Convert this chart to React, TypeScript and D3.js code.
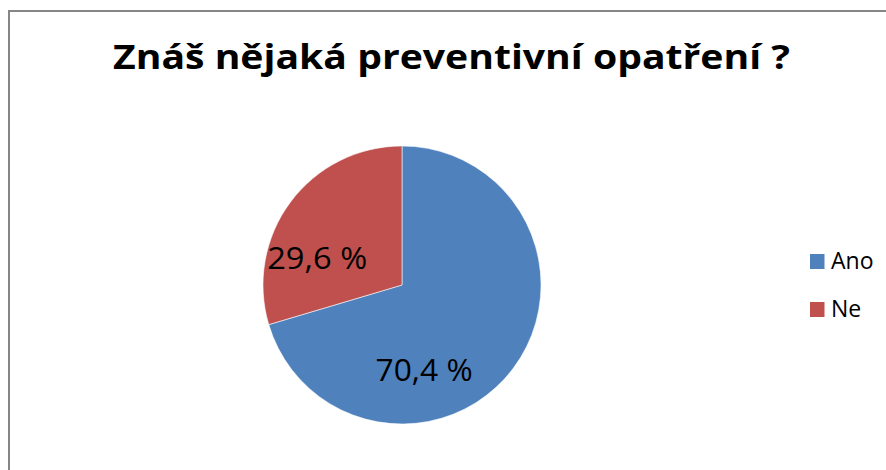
import React from "react";
import * as d3 from "d3";

const titleText = "Znáš nějaká preventivní opatření ?";
const categories = ["Ano", "Ne"];
const values = [70.4, 29.6];
const labels = ["70,4 %", "29,6 %"];
const colors = ["#4F81BD", "#C0504D"];

const W = 886;
const H = 470;
const cx = 402;
const cy = 285;
const R = 139;
// where inside each slice the label sits (fraction of slice angle, fraction of radius)
const labelAngleFrac = [0.653, 0.32];
const labelRadiusFrac = [0.635, 0.64];

export default function App() {
  const pie = d3.pie<number>().sort(null).value((d) => d);
  const arcs = pie(values);
  const arc = d3.arc<d3.PieArcDatum<number>>().innerRadius(0).outerRadius(R);
  const font = "'Open Sans', 'Noto Sans', sans-serif";
  const legendY = d3.scalePoint<string>().domain(categories).range([261.5, 309.5]);

  return (
    <svg
      width={W}
      height={H}
      style={{ position: "absolute", left: 0, top: 0, background: "#fff" }}
    >
      <rect x={0} y={0} width={W} height={H} fill="#fff" />
      <path d={`M9,${H} L9,11 L${W},11`} fill="none" stroke="#868686" strokeWidth={2} />
      <text
        x={451.5}
        y={69}
        textAnchor="middle"
        fontFamily={font}
        fontWeight="bold"
        fontSize={34}
        textLength={677}
        lengthAdjust="spacingAndGlyphs"
        fill="#000"
      >
        {titleText}
      </text>
      <g transform={`translate(${cx},${cy})`}>
        {arcs.map((a, i) => (
          <path key={i} d={arc(a) || ""} fill={colors[i]} stroke="#fff" strokeWidth={0.8} strokeOpacity={0.7} />
        ))}
        {arcs.map((a, i) => {
          const ang = a.startAngle + (a.endAngle - a.startAngle) * labelAngleFrac[i];
          const r = R * labelRadiusFrac[i];
          const x = Math.sin(ang) * r;
          const y = -Math.cos(ang) * r;
          return (
            <text
              key={"l" + i}
              x={x}
              y={y}
              dy="0.355em"
              textAnchor="middle"
              fontFamily={font}
              fontSize={31}
              textLength={i === 0 ? 97 : 100}
              lengthAdjust="spacingAndGlyphs"
              fill="#000"
            >
              {labels[i]}
            </text>
          );
        })}
      </g>
      {categories.map((c, i) => (
        <g key={c} transform={`translate(0,${legendY(c)})`}>
          <rect x={810} y={-7.5} width={14.5} height={15} fill={colors[i]} />
          <text x={831} y={7.5} fontFamily={font} fontSize={23} fill="#000">
            {c}
          </text>
        </g>
      ))}
    </svg>
  );
}
